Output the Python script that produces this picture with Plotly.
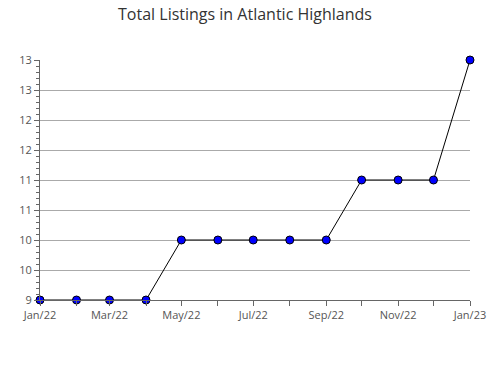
import plotly.graph_objects as go

months = ["2022-01-01", "2022-02-01", "2022-03-01", "2022-04-01", "2022-05-01",
          "2022-06-01", "2022-07-01", "2022-08-01", "2022-09-01", "2022-10-01",
          "2022-11-01", "2022-12-01", "2023-01-01"]
listings = [9, 9, 9, 9, 10, 10, 10, 10, 10, 11, 11, 11, 13]

fig = go.Figure()
fig.add_trace(go.Scatter(
    x=months, y=listings, mode="lines+markers",
    line=dict(color="black", width=1),
    marker=dict(symbol="circle", size=8, color="#0000ff", line=dict(color="black", width=1)),
    cliponaxis=False,
))

fig.update_layout(
    width=490, height=380,
    margin=dict(l=40, r=20, t=60, b=80),
    paper_bgcolor="white", plot_bgcolor="white",
    showlegend=False,
    font=dict(family="Open Sans", size=11, color="#555"),
    title=dict(text="Total Listings in Atlantic Highlands", x=0.5, xanchor="center",
               y=0.962, yanchor="middle", font=dict(size=16, color="#333")),
)
fig.update_xaxes(
    type="date", range=["2022-01-01", "2023-01-01"], automargin=False,
    dtick="M2", tick0="2022-01-01", tickformat="%b/%y",
    ticks="outside", ticklen=5, tickcolor="#666",
    minor=dict(dtick="M1", ticks="outside", ticklen=5, tickcolor="#666"),
    showline=True, linecolor="#666", linewidth=1,
    showgrid=False, zeroline=False,
    tickfont=dict(size=11, color="#555"),
)
fig.update_yaxes(
    range=[9, 13], dtick=0.5, tick0=9, tickformat=".0f", automargin=False,
    ticks="outside", ticklen=5, tickcolor="#666",
    minor=dict(dtick=0.1, ticks="outside", ticklen=3, tickcolor="#666", showgrid=False),
    showline=True, linecolor="#666", linewidth=1,
    showgrid=True, gridcolor="#aaa", gridwidth=1, zeroline=False,
    tickfont=dict(size=11, color="#555"),
)

fig.write_html("out.html")
